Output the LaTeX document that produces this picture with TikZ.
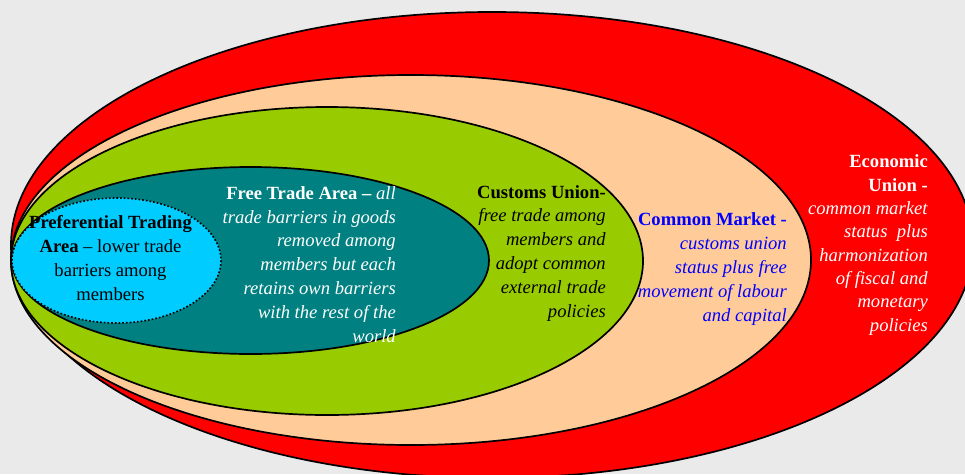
\documentclass[tikz,border=0pt]{standalone}
\usepackage{fontspec}
\setmainfont{Liberation Serif}
\usepackage{xcolor}
\usetikzlibrary{positioning}

\definecolor{paneGray}{HTML}{EAEAEA}
\definecolor{euRed}{HTML}{FF0000}
\definecolor{cmPeach}{HTML}{FFCC99}
\definecolor{cuGreen}{HTML}{99CC00}
\definecolor{ftaTeal}{HTML}{008080}
\definecolor{ptaCyan}{HTML}{00CCFF}

\begin{document}
\begin{tikzpicture}[x=1pt, y=-1pt,
    zone/.style={draw=black, line width=1.7pt},
    label/.style={inner sep=0pt, font=\fontsize{18.6}{23.8}\selectfont},
    rlabel/.style={label, align=right, anchor=base east}]
  \fill[paneGray] (0,0) rectangle (965,474);
  \useasboundingbox (0,0) rectangle (965,474);
  \clip (0,0) rectangle (965,474);

  % nested trade blocs, outermost first
  \filldraw[zone, fill=euRed] (492,245) ellipse [x radius=481, y radius=233];
  \filldraw[zone, fill=cmPeach] (411,260) ellipse [x radius=400, y radius=185];
  \filldraw[zone, fill=cuGreen] (327,261) ellipse [x radius=316, y radius=154];
  \filldraw[zone, fill=ftaTeal] (250.5,260.5) ellipse [x radius=238.5, y radius=93.5];
  \filldraw[zone, fill=ptaCyan, dotted, line width=1.6pt] (116.5,260.5) ellipse [x radius=104.5, y radius=62.5];

  % labels sit on the baseline of their last line
  \node[label, align=center, anchor=base] (pta) at (110.5,300)
    {\textbf{Preferential Trading}\\\textbf{Area} -- lower trade\\barriers among\\members};
  \node[rlabel, text=white] (fta) at (396,342)
    {\textbf{Free Trade Area --} \textit{all}\\\textit{trade barriers in goods}\\\textit{removed among}\\\textit{members but each}\\\textit{retains own barriers}\\\textit{with the rest of the}\\\textit{world}};
  \node[rlabel] (cu) at (606,317)
    {\textbf{Customs Union-}\\\textit{free trade among}\\\textit{members and}\\\textit{adopt common}\\\textit{external trade}\\\textit{policies}};
  \node[rlabel, text=blue] (cm) at (787,321)
    {\textbf{Common Market -}\\\textit{customs union}\\\textit{status plus free}\\\textit{movement of labour}\\\textit{and capital}};
  \node[rlabel, text=white, font=\fontsize{18.6}{23.3}\selectfont] (eu) at (928,331)
    {\textbf{Economic}\\\textbf{Union -}\\\textit{common market}\\\textit{status\ \ plus}\\\textit{harmonization}\\\textit{of fiscal and}\\\textit{monetary}\\\textit{policies}};
\end{tikzpicture}
\end{document}
